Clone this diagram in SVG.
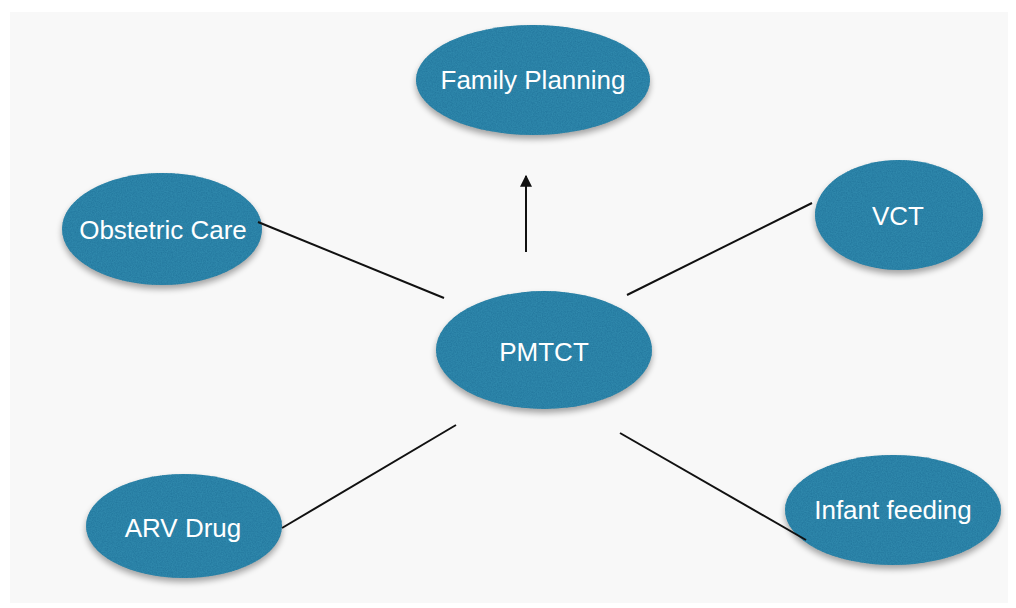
<svg xmlns="http://www.w3.org/2000/svg" width="1016" height="608" viewBox="0 0 1016 608">
<defs>
<style>
.node ellipse{fill:#2f88ac;filter:url(#tex);}
.node text{fill:#ffffff;font-family:"Liberation Sans",Arial,sans-serif;font-size:26px;text-anchor:middle;}
.conn line{stroke:#111111;stroke-width:2;}
</style>
<filter id="tex" x="-10%" y="-10%" width="120%" height="130%" color-interpolation-filters="sRGB">
<feTurbulence type="fractalNoise" baseFrequency="0.8" numOctaves="2" seed="3" result="n"/>
<feColorMatrix in="n" type="matrix" values="0 0 0 0 0.14  0 0 0 0 0.47  0 0 0 0 0.62  0 0 0 -1.6 1.2" result="c"/>
<feComposite in="c" in2="SourceGraphic" operator="in" result="t"/>
<feGaussianBlur in="SourceAlpha" stdDeviation="3" result="b"/>
<feOffset in="b" dx="0" dy="4" result="o"/>
<feComponentTransfer in="o" result="s"><feFuncA type="linear" slope="0.35"/></feComponentTransfer>
<feMerge><feMergeNode in="s"/><feMergeNode in="SourceGraphic"/><feMergeNode in="t"/></feMerge>
</filter>
<marker id="arr" viewBox="0 0 10 10" refX="9" refY="5" markerWidth="6" markerHeight="6" orient="auto" markerUnits="strokeWidth">
<path d="M0,0 L10,5 L0,10 z" fill="#111111"/>
</marker>
</defs>
<rect width="1016" height="608" fill="#ffffff"/>
<rect x="10" y="12" width="998" height="591" fill="#f8f8f8"/>
<g id="family-planning" class="node"><ellipse cx="533" cy="80" rx="117" ry="55"/><text x="533" y="89">Family Planning</text></g>
<g id="obstetric-care" class="node"><ellipse cx="162" cy="229" rx="100" ry="56"/><text x="163" y="239">Obstetric Care</text></g>
<g id="vct" class="node"><ellipse cx="899" cy="215" rx="84" ry="55"/><text x="898" y="225">VCT</text></g>
<g id="pmtct" class="node"><ellipse cx="544" cy="350" rx="108" ry="59"/><text x="544" y="361">PMTCT</text></g>
<g id="arv-drug" class="node"><ellipse cx="184" cy="526" rx="98" ry="52"/><text x="183" y="537">ARV Drug</text></g>
<g id="infant-feeding" class="node"><ellipse cx="893" cy="510" rx="108" ry="55"/><text x="893" y="519">Infant feeding</text></g>
<g id="connectors" class="conn">
<line x1="258" y1="222" x2="444" y2="298"/>
<line x1="812" y1="203" x2="627" y2="295"/>
<line x1="456" y1="425" x2="282" y2="528"/>
<line x1="620" y1="433" x2="806" y2="540"/>
<line x1="526" y1="252" x2="526" y2="176" stroke-width="2.5" marker-end="url(#arr)"/>
</g>
</svg>
